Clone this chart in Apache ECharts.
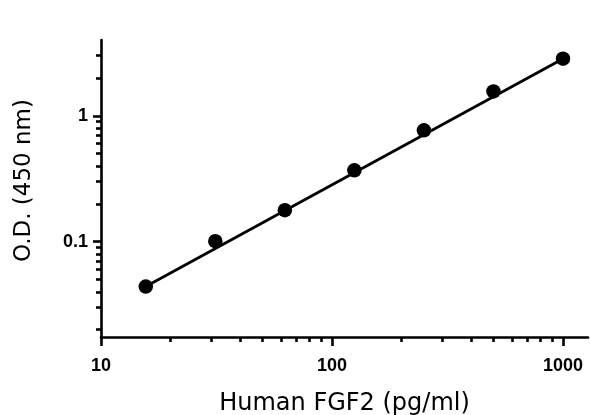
<!DOCTYPE html>
<html>
<head>
<meta charset="utf-8">
<script src="https://cdn.jsdelivr.net/npm/echarts@6/dist/echarts.min.js"></script>
<style>html,body{margin:0;padding:0;background:#fff;}#c{width:590px;height:415px;}</style>
</head>
<body>
<div id="c"></div>
<script>
// Data
var concentrations = [15.625, 31.25, 62.5, 125, 250, 500, 1000];
var odValues = [0.044, 0.101, 0.178, 0.369, 0.767, 1.56, 2.84];
var fitX = [15.625, 1000];
var fitY = [0.044, 2.84];
var xMajorTicks = [10, 100, 1000];
var xMinorTicks = [20, 30, 40, 50, 60, 70, 80, 90, 200, 300, 400, 500, 600, 700, 800, 900];
var yMajorTicks = [0.1, 1];
var yMinorTicks = [0.02, 0.03, 0.04, 0.05, 0.06, 0.07, 0.08, 0.09, 0.2, 0.3, 0.4, 0.5, 0.6, 0.7, 0.8, 0.9, 2, 3];
var xTitle = 'Human FGF2 (pg/ml)';
var yTitle = 'O.D. (450 nm)';

var chart = echarts.init(document.getElementById('c'));
var axisCol = '#000';
var lw = 2.6;
var xMin = 10, xMax = 1283, yMin = 0.0175, yMax = 4;

var scatterData = concentrations.map(function (x, i) { return [x, odValues[i]]; });
var fitData = fitX.map(function (x, i) { return [x, fitY[i]]; });
function plainLabel(v) { return String(v); }

chart.setOption({
  animation: false,
  grid: { left: 101, right: 2, top: 40, bottom: 78, containLabel: false, outerBoundsMode: 'none' },
  xAxis: [
    {
      type: 'log', logBase: 10, min: xMin, max: xMax, position: 'bottom',
      name: xTitle, nameLocation: 'middle', nameGap: 55,
      nameTextStyle: { fontFamily: 'DejaVu Sans', fontSize: 24, color: '#000' },
      axisLine: { show: true, lineStyle: { color: axisCol, width: lw } },
      axisTick: { show: true, customValues: xMajorTicks, length: 9, lineStyle: { color: axisCol, width: lw } },
      axisLabel: { show: true, customValues: xMajorTicks, formatter: plainLabel, margin: 20, fontFamily: 'Liberation Sans', fontWeight: 'bold', fontSize: 18, color: '#000' },
      splitLine: { show: false }, minorTick: { show: false }
    },
    {
      type: 'log', logBase: 10, min: xMin, max: xMax, position: 'bottom',
      axisLine: { show: false },
      axisTick: { show: true, customValues: xMinorTicks, length: 5, lineStyle: { color: axisCol, width: lw } },
      axisLabel: { show: false },
      splitLine: { show: false }
    }
  ],
  yAxis: [
    {
      type: 'log', logBase: 10, min: yMin, max: yMax, position: 'left',
      name: yTitle, nameLocation: 'middle', nameGap: 65, nameRotate: 90,
      nameTextStyle: { fontFamily: 'DejaVu Sans', fontSize: 23, color: '#000', padding: [0, 0, 0, 16] },
      axisLine: { show: true, lineStyle: { color: axisCol, width: lw } },
      axisTick: { show: true, customValues: yMajorTicks, length: 8, lineStyle: { color: axisCol, width: lw } },
      axisLabel: { show: true, customValues: yMajorTicks, formatter: plainLabel, margin: 13, fontFamily: 'Liberation Sans', fontWeight: 'bold', fontSize: 18, color: '#000' },
      splitLine: { show: false }
    },
    {
      type: 'log', logBase: 10, min: yMin, max: yMax, position: 'left',
      axisLine: { show: false },
      axisTick: { show: true, customValues: yMinorTicks, length: 5, lineStyle: { color: axisCol, width: lw } },
      axisLabel: { show: false },
      splitLine: { show: false }
    }
  ],
  series: [
    {
      type: 'line', xAxisIndex: 0, yAxisIndex: 0, data: fitData,
      showSymbol: false, symbol: 'none',
      lineStyle: { color: '#000', width: 2.8 }, z: 2
    },
    {
      type: 'scatter', xAxisIndex: 0, yAxisIndex: 0, data: scatterData,
      symbol: 'circle', symbolSize: 14.5,
      itemStyle: { color: '#000', opacity: 1 }, z: 3
    }
  ]
});
</script>
</body>
</html>
